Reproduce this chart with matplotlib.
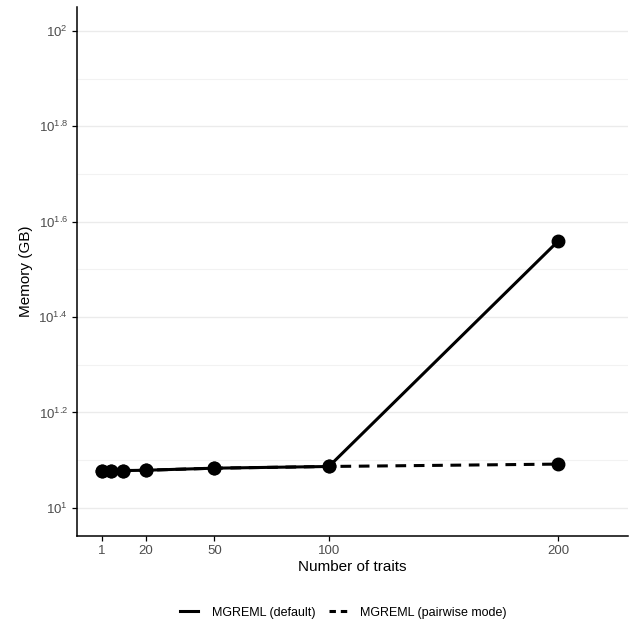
import matplotlib
matplotlib.use("Agg")
import matplotlib.pyplot as plt
import numpy as np

plt.rcParams['font.family'] = ['Liberation Sans', 'DejaVu Sans']
plt.rcParams['mathtext.fontset'] = 'custom'
plt.rcParams['mathtext.rm'] = 'Liberation Sans'
plt.rcParams['mathtext.it'] = 'Liberation Sans'

# data
traits = [1, 5, 10, 20, 50, 100, 200]
mem_default = [11.95, 11.96, 11.97, 11.99, 12.11, 12.21, 36.2]
mem_pairwise = [11.95, 11.96, 11.97, 11.99, 12.11, 12.21, 12.35]
x_ticks = [1, 20, 50, 100, 200]
y_exps = [1, 1.2, 1.4, 1.6, 1.8, 2]
y_minor = [1.1, 1.3, 1.5, 1.7, 1.9]

fig = plt.figure(figsize=(6.29, 6.26), dpi=100)
ax = fig.add_axes([0.1224, 0.1438, 0.8756, 0.845])

for e in y_exps:
    ax.axhline(10 ** e, color='#EBEBEB', lw=1.0, zorder=0)
for e in y_minor:
    ax.axhline(10 ** e, color='#F2F2F2', lw=0.8, zorder=0)

ax.plot(traits, mem_pairwise, color='black', lw=2.2, ls=(0, (3.5, 2.5)),
        marker='o', ms=9, label='MGREML (pairwise mode)', zorder=2)
ax.plot(traits, mem_default, color='black', lw=2.2, ls='-',
        marker='o', ms=9, label='MGREML (default)', zorder=3)

ax.set_yscale('log')
ax.set_ylim(10 ** 0.941, 10 ** 2.05)
ax.set_xlim(-10, 230.5)
ax.set_yticks([10 ** e for e in y_exps])
ax.set_yticklabels([r'$10^{%g}$' % e for e in y_exps])
ax.yaxis.set_minor_locator(matplotlib.ticker.NullLocator())
ax.set_xticks(x_ticks)
ax.set_xticklabels([str(t) for t in x_ticks])

for s in ['top', 'right']:
    ax.spines[s].set_visible(False)
for s in ['left', 'bottom']:
    ax.spines[s].set_linewidth(1.1)
ax.tick_params(axis='both', colors='black', labelcolor='#4D4D4D',
               labelsize=9.5, length=3.5, width=0.9, pad=3)

ax.set_xlabel('Number of traits', fontsize=11, labelpad=2)
ax.set_ylabel('Memory (GB)', fontsize=11, labelpad=4)

leg = fig.legend(
    [plt.Line2D([], [], color='black', lw=2.2),
     plt.Line2D([], [], color='black', lw=2.2, ls=(0, (2.1, 1.6)))],
    ['MGREML (default)', 'MGREML (pairwise mode)'],
    loc='center', bbox_to_anchor=(0.546, 0.0215), ncol=2, frameon=False,
    fontsize=9, handlelength=1.45, columnspacing=1.1, handletextpad=1.05)

fig.savefig('out.png', dpi=100)
